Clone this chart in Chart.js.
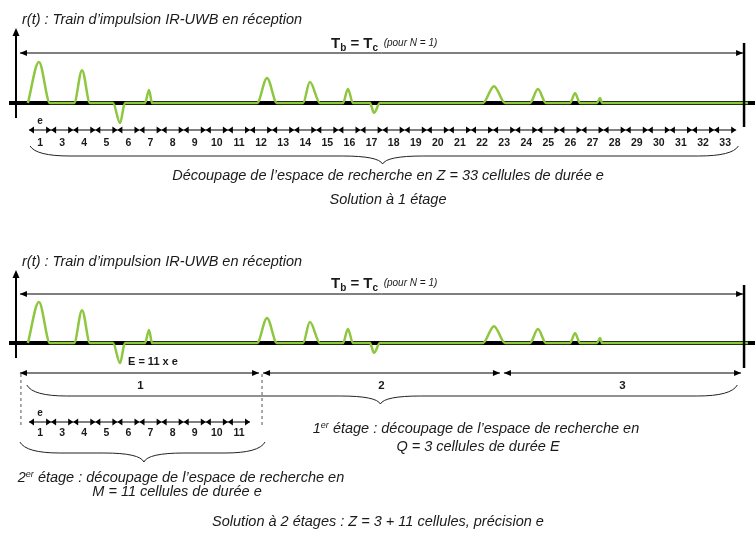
<!DOCTYPE html>
<html lang="fr">
<head>
<meta charset="UTF-8" />
<title>Découpage de l'espace de recherche – IR-UWB</title>
<script src="https://cdn.jsdelivr.net/npm/chart.js"></script>
<style>
  * { margin: 0; padding: 0; box-sizing: border-box; }
  body { background: #fff; width: 755px; height: 536px; overflow: hidden; }
  #wrap { position: relative; width: 755px; height: 536px; }
</style>
</head>
<body>
<div id="wrap"><canvas id="chart"></canvas></div>
<script>
  // time unit = one cell of duration e ; amplitude 1 = first pulse
  const pulseStart = [-0.05, 2.04, 3.80, 5.25, 10.32, 12.40, 14.21, 15.43, 20.54, 22.67, 24.48, 25.70];
  const pulsePeak  = [ 0.45, 2.40, 4.12, 5.43, 10.77, 12.71, 14.43, 15.61, 21.04, 23.03, 24.71, 25.84];
  const pulseEnd   = [ 0.95, 2.76, 4.34, 5.57, 11.22, 13.17, 14.66, 15.88, 21.54, 23.39, 24.93, 25.93];
  const pulseAmp   = [ 1.00, 0.80, -0.49, 0.32, 0.61, 0.51, 0.34, -0.24, 0.41, 0.34, 0.24, 0.12];
  const signalEnd = 32.53;

  // T_b period and the search-space cells
  const periodStart = -0.41, periodEnd = 32.31;
  const cellLabels = ['1','3','4','5','6','7','8','9','10','11','12','13','14','15','16','17',
                      '18','19','20','21','22','23','24','25','26','27','28','29','30','31','32','33'];
  const stage1Edges = [-0.41, 10.50, 21.40, 32.31];
  const stage1Labels = ['1', '2', '3'];
  const stage2Labels = ['1','3','4','5','6','7','8','9','10','11'];

  const GREEN = '#8dc63f';
  const INK = '#1a1a1a';
  const FONT = "'Liberation Sans', Arial, sans-serif";
  const IT = 'italic 14.5px ' + FONT;

  // waveform points: flat baseline between pulses, one hump per pulse
  const signal = [];
  pulseStart.forEach((s, i) => {
    signal.push({ x: s, y: 0 });
    signal.push({ x: pulsePeak[i], y: pulseAmp[i] });
    signal.push({ x: pulseEnd[i], y: 0 });
  });
  signal.push({ x: signalEnd, y: 0 });

  function head(ctx, x, y, dir, len, half) {
    ctx.beginPath();
    ctx.moveTo(x, y);
    ctx.lineTo(x - dir * len, y - half);
    ctx.lineTo(x - dir * len, y + half);
    ctx.closePath();
    ctx.fill();
  }

  function dblArrow(ctx, x1, x2, y, len, half) {
    ctx.beginPath();
    ctx.moveTo(x1, y);
    ctx.lineTo(x2, y);
    ctx.stroke();
    head(ctx, x1, y, -1, len, half);
    head(ctx, x2, y, 1, len, half);
  }

  function brace(ctx, x1, x2, xm, y0, h, c) {
    const r = Math.min(40, (xm - x1) / 3);
    ctx.beginPath();
    ctx.moveTo(x1, y0);
    ctx.quadraticCurveTo(x1 + 6, y0 + h, x1 + r, y0 + h);
    ctx.lineTo(xm - r, y0 + h);
    ctx.quadraticCurveTo(xm - 4, y0 + h, xm, y0 + h + c);
    ctx.quadraticCurveTo(xm + 4, y0 + h, xm + r, y0 + h);
    ctx.lineTo(x2 - r, y0 + h);
    ctx.quadraticCurveTo(x2 - 6, y0 + h, x2, y0);
    ctx.stroke();
  }

  // text made of runs (for subscripts / superscripts); cx = centre when centred
  function rich(ctx, x, y, parts, centred) {
    ctx.textAlign = 'left';
    ctx.textBaseline = 'alphabetic';
    if (centred) {
      let w = 0;
      parts.forEach(p => { ctx.font = p.font; w += ctx.measureText(p.t).width; });
      x -= w / 2;
    }
    parts.forEach(p => {
      ctx.font = p.font;
      ctx.fillText(p.t, x, y + (p.dy || 0));
      x += ctx.measureText(p.t).width;
    });
  }

  function text(ctx, t, x, y, font, align) {
    ctx.font = font;
    ctx.textAlign = align || 'left';
    ctx.textBaseline = 'middle';
    ctx.fillText(t, x, y);
  }

  function panelFrame(ctx, chart, yAxis, titleY, tbY, tbTextY, rightTop, rightBot) {
    const xs = chart.scales.x, ys = chart.scales[yAxis];
    const y0 = ys.getPixelForValue(0);
    ctx.fillStyle = INK;
    text(ctx, 'r(t) : Train d\u2019impulsion IR-UWB en réception', 22, titleY, IT);
    // vertical axis with arrow
    ctx.strokeStyle = '#000';
    ctx.fillStyle = '#000';
    ctx.lineWidth = 2;
    ctx.beginPath();
    ctx.moveTo(16, y0 + 15);
    ctx.lineTo(16, titleY + 14);
    ctx.stroke();
    ctx.beginPath();
    ctx.moveTo(16, titleY + 8);
    ctx.lineTo(12.5, titleY + 16);
    ctx.lineTo(19.5, titleY + 16);
    ctx.closePath();
    ctx.fill();
    // T_b period arrow
    ctx.lineWidth = 1;
    dblArrow(ctx, xs.getPixelForValue(periodStart), xs.getPixelForValue(periodEnd), tbY, 7, 3);
    // right limit
    ctx.lineWidth = 2.5;
    ctx.beginPath();
    ctx.moveTo(xs.getPixelForValue(periodEnd) + 1, rightTop);
    ctx.lineTo(xs.getPixelForValue(periodEnd) + 1, rightBot);
    ctx.stroke();
    ctx.fillStyle = INK;
    rich(ctx, 331, tbTextY + 5, [
      { t: 'T', font: 'bold 15px ' + FONT },
      { t: 'b', font: 'bold 10px ' + FONT, dy: 3 },
      { t: ' = T', font: 'bold 15px ' + FONT },
      { t: 'c', font: 'bold 10px ' + FONT, dy: 3 },
      { t: '  (pour N = 1)', font: 'italic 10px ' + FONT, dy: -2 }
    ]);
  }

  const decorations = {
    id: 'decorations',
    beforeDatasetsDraw(chart) {
      const ctx = chart.ctx;
      ctx.save();
      ctx.strokeStyle = '#000';
      ctx.lineWidth = 4;
      ['yTop', 'yBot'].forEach(id => {
        const y0 = chart.scales[id].getPixelForValue(0);
        ctx.beginPath();
        ctx.moveTo(9, y0);
        ctx.lineTo(chart.width, y0);
        ctx.stroke();
      });
      ctx.restore();
    },
    afterDatasetsDraw(chart) {
      const ctx = chart.ctx, xs = chart.scales.x;
      const X = v => xs.getPixelForValue(v);
      const NUM = 'bold 10.5px ' + FONT;
      ctx.save();

      // ---------- solution à 1 étage ----------
      panelFrame(ctx, chart, 'yTop', 20, 53, 43, 43, 127);
      ctx.fillStyle = '#000';
      ctx.strokeStyle = '#000';
      ctx.lineWidth = 1;
      cellLabels.forEach((l, i) => dblArrow(ctx, X(i), X(i + 1), 130, 5, 3.5));
      ctx.fillStyle = INK;
      text(ctx, 'e', X(0.5), 121, 'bold 10px ' + FONT, 'center');
      cellLabels.forEach((l, i) => text(ctx, l, X(i + 0.5), 143, NUM, 'center'));
      ctx.strokeStyle = '#222';
      ctx.lineWidth = 1;
      brace(ctx, X(0.05), X(32.1), X(16), 146, 10, 8);
      text(ctx, 'Découpage de l\u2019espace de recherche en Z = 33 cellules de durée e', 388, 176, IT, 'center');
      text(ctx, 'Solution à 1 étage', 388, 200, IT, 'center');

      // ---------- solution à 2 étages ----------
      panelFrame(ctx, chart, 'yBot', 262, 294, 283, 285, 368);
      ctx.fillStyle = INK;
      text(ctx, 'E = 11 x e', 128, 362, 'bold 11px ' + FONT);
      ctx.fillStyle = '#000';
      ctx.strokeStyle = '#000';
      ctx.lineWidth = 1;
      stage1Labels.forEach((l, i) => {
        const a = X(stage1Edges[i]), b = X(stage1Edges[i + 1]);
        dblArrow(ctx, a + (i ? 2 : 0), b - 2, 373, 7, 3);
        ctx.fillStyle = INK;
        text(ctx, l, (a + b) / 2, 386, 'bold 11.5px ' + FONT, 'center');
        ctx.fillStyle = '#000';
      });
      // dashed guides around stage-1 cell 1
      ctx.setLineDash([3, 3]);
      ctx.strokeStyle = '#555';
      [stage1Edges[0], stage1Edges[1]].forEach(v => {
        ctx.beginPath();
        ctx.moveTo(X(v) + 1, 374);
        ctx.lineTo(X(v) + 1, 428);
        ctx.stroke();
      });
      ctx.setLineDash([]);
      ctx.strokeStyle = '#222';
      brace(ctx, X(-0.1), X(32.05), X(15.9), 385, 11, 8);

      ctx.strokeStyle = '#000';
      stage2Labels.forEach((l, i) => dblArrow(ctx, X(i), X(i + 1), 422, 5, 3.5));
      ctx.fillStyle = INK;
      text(ctx, 'e', X(0.5), 413, 'bold 10px ' + FONT, 'center');
      stage2Labels.forEach((l, i) => text(ctx, l, X(i + 0.5), 433, NUM, 'center'));
      ctx.strokeStyle = '#222';
      brace(ctx, X(stage1Edges[0]), X(stage1Edges[1]) + 4, X(5.2), 442, 11, 9);

      rich(ctx, 476, 433, [
        { t: '1', font: IT },
        { t: 'er', font: 'italic 9px ' + FONT, dy: -5 },
        { t: ' étage : découpage de l\u2019espace de recherche en', font: IT }
      ], true);
      text(ctx, 'Q = 3 cellules de durée E', 478, 447, IT, 'center');
      rich(ctx, 181, 482, [
        { t: '2', font: IT },
        { t: 'er', font: 'italic 9px ' + FONT, dy: -5 },
        { t: ' étage : découpage de l\u2019espace de recherche en', font: IT }
      ], true);
      text(ctx, 'M = 11 cellules de durée e', 177, 492, IT, 'center');
      text(ctx, 'Solution à 2 étages : Z = 3 + 11 cellules, précision e', 378, 522, IT, 'center');
      ctx.restore();
    }
  };

  const line = axis => ({
    data: signal,
    yAxisID: axis,
    borderColor: GREEN,
    borderWidth: 2.5,
    pointRadius: 0,
    fill: false,
    cubicInterpolationMode: 'monotone'
  });

  new Chart(document.getElementById('chart'), {
    type: 'line',
    data: { datasets: [line('yTop'), line('yBot')] },
    options: {
      responsive: true,
      maintainAspectRatio: false,
      animation: false,
      layout: { padding: 0 },
      plugins: { legend: { display: false }, tooltip: { enabled: false } },
      scales: {
        x: { type: 'linear', min: -1.312, max: 32.851, display: false },
        yTop: { type: 'linear', min: -10.56, max: 2.512, display: false },
        yBot: { type: 'linear', min: -4.707, max: 8.366, display: false }
      }
    },
    plugins: [decorations]
  });
</script>
</body>
</html>
